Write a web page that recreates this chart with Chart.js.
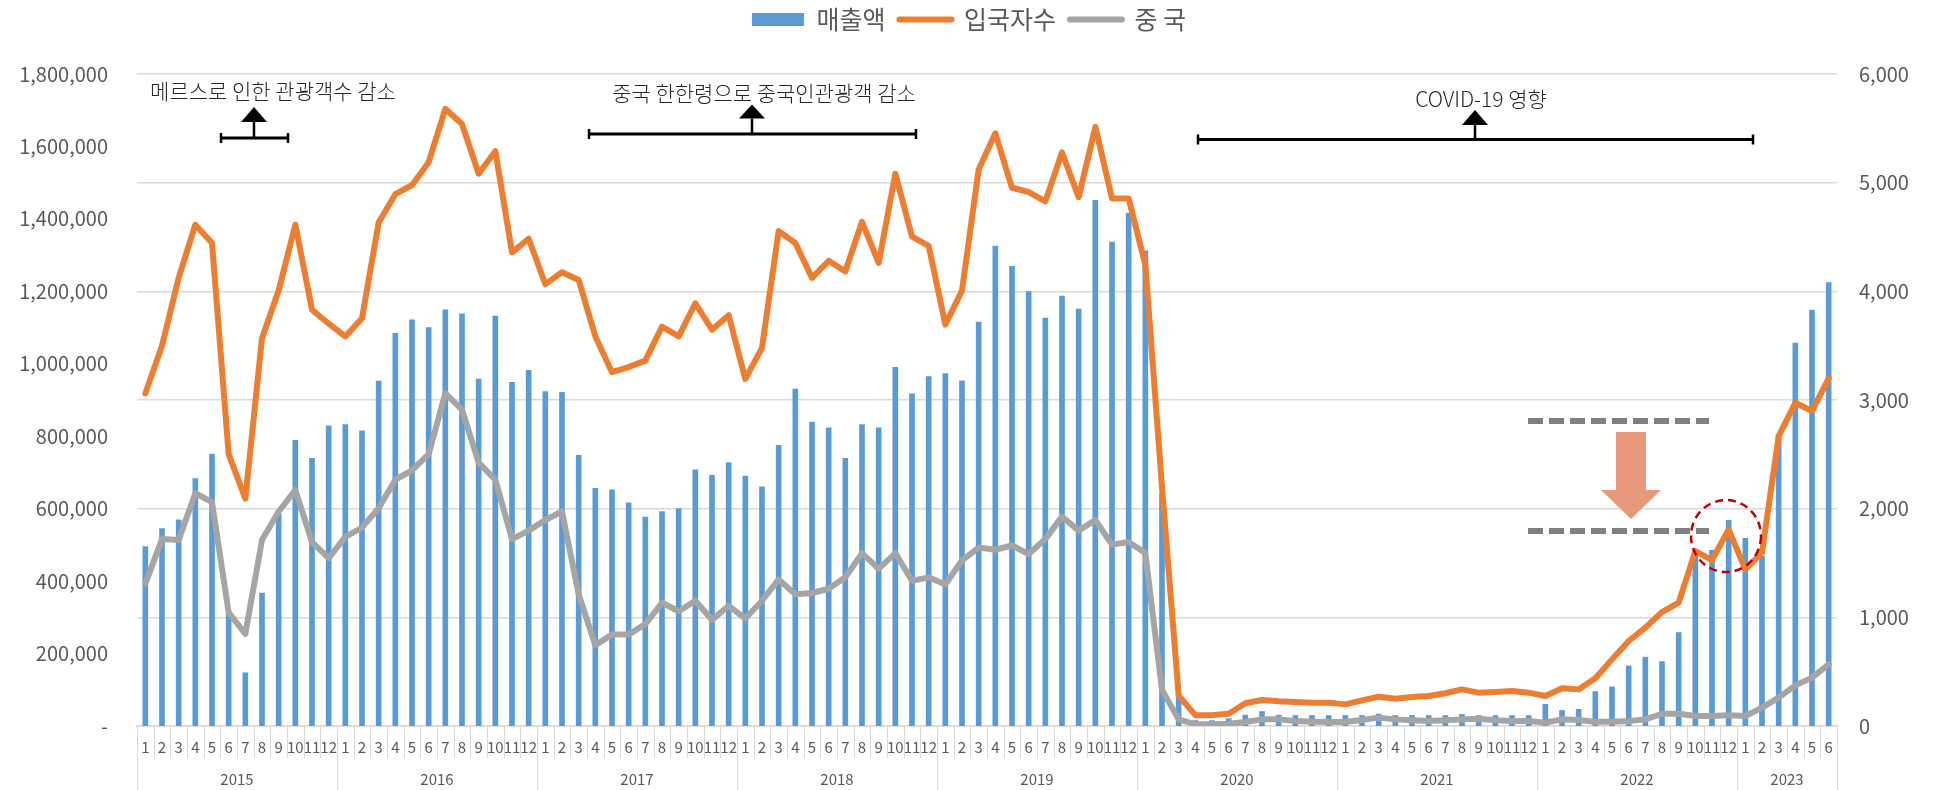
<!DOCTYPE html>
<html>
<head>
<meta charset="utf-8">
<script src="https://cdn.jsdelivr.net/npm/chart.js@4.4.1/dist/chart.umd.min.js"></script>
<style>
html,body{margin:0;padding:0;background:#ffffff;}
canvas{display:block;}
</style>
</head>
<body>
<canvas id="c" width="1938" height="790"></canvas>
<script>
// ---------- data ----------
const categories = [
 '2015-1','2015-2','2015-3','2015-4','2015-5','2015-6','2015-7','2015-8','2015-9','2015-10','2015-11','2015-12',
 '2016-1','2016-2','2016-3','2016-4','2016-5','2016-6','2016-7','2016-8','2016-9','2016-10','2016-11','2016-12',
 '2017-1','2017-2','2017-3','2017-4','2017-5','2017-6','2017-7','2017-8','2017-9','2017-10','2017-11','2017-12',
 '2018-1','2018-2','2018-3','2018-4','2018-5','2018-6','2018-7','2018-8','2018-9','2018-10','2018-11','2018-12',
 '2019-1','2019-2','2019-3','2019-4','2019-5','2019-6','2019-7','2019-8','2019-9','2019-10','2019-11','2019-12',
 '2020-1','2020-2','2020-3','2020-4','2020-5','2020-6','2020-7','2020-8','2020-9','2020-10','2020-11','2020-12',
 '2021-1','2021-2','2021-3','2021-4','2021-5','2021-6','2021-7','2021-8','2021-9','2021-10','2021-11','2021-12',
 '2022-1','2022-2','2022-3','2022-4','2022-5','2022-6','2022-7','2022-8','2022-9','2022-10','2022-11','2022-12',
 '2023-1','2023-2','2023-3','2023-4','2023-5','2023-6'
];
const yearLabels = ['2015','2016','2017','2018','2019','2020','2021','2022','2023'];

// 매출액 (left axis)
const sales = [
 495000, 545000, 569000, 683000, 751000, 310000, 147000, 367000, 585000, 789000, 739000, 829000,
 832000, 815000, 952000, 1084000, 1121000, 1100000, 1149000, 1138000, 958000, 1132000, 949000, 982000,
 923000, 921000, 747000, 656000, 652000, 616000, 577000, 592000, 600000, 707000, 692000, 727000,
 690000, 660000, 775000, 930000, 839000, 823000, 739000, 832000, 823000, 990000, 917000, 965000,
 973000, 953000, 1115000, 1325000, 1269000, 1199000, 1126000, 1187000, 1151000, 1451000, 1336000, 1416000,
 1312000, 640000, 85000, 15000, 15000, 20000, 30000, 40000, 30000, 29000, 29000, 29000,
 29000, 29000, 33000, 29000, 29000, 29000, 29000, 32000, 29000, 29000, 29000, 29000,
 60000, 43000, 46000, 95000, 108000, 166000, 190000, 178000, 258000, 483000, 485000, 568000,
 518000, 469000, 800000, 1057000, 1148000, 1224000
];
// 입국자수 (right axis)
const arrivals = [
 3061, 3499, 4124, 4613, 4445, 2502, 2091, 3569, 4007, 4613, 3831, 3702,
 3585, 3753, 4633, 4894, 4977, 5188, 5680, 5540, 5082, 5289, 4359, 4484,
 4066, 4175, 4105, 3585, 3256, 3303, 3362, 3675, 3585, 3890, 3647, 3780,
 3194, 3479, 4554, 4445, 4124, 4281, 4183, 4640, 4261, 5082, 4504, 4418,
 3694, 4007, 5121, 5454, 4953, 4914, 4828, 5278, 4867, 5512, 4855, 4855,
 4242, 2200, 280, 100, 100, 112, 209, 239, 228, 221, 215, 215,
 199, 236, 270, 251, 267, 276, 301, 337, 307, 313, 322, 307,
 276, 347, 337, 439, 613, 782, 905, 1049, 1135, 1610, 1527, 1810,
 1441, 1595, 2668, 2975, 2898, 3200
];
// 중 국 (right axis)
const china = [
 1310, 1720, 1712, 2142, 2060, 1044, 848, 1712, 1974, 2170, 1693, 1544,
 1740, 1826, 2005, 2267, 2353, 2502, 3061, 2912, 2424, 2267, 1720, 1798,
 1896, 1974, 1212, 743, 841, 841, 938, 1134, 1056, 1153, 977, 1106,
 989, 1153, 1349, 1212, 1224, 1263, 1368, 1591, 1446, 1591, 1337, 1368,
 1302, 1525, 1642, 1622, 1661, 1583, 1720, 1927, 1798, 1896, 1669, 1693,
 1591, 332, 61, 15, 15, 21, 37, 61, 61, 46, 40, 37,
 37, 55, 77, 61, 52, 46, 52, 61, 67, 52, 46, 46,
 31, 61, 55, 40, 40, 46, 61, 113, 113, 92, 92, 98,
 92, 169, 261, 374, 445, 567
];
const seriesNames = ['매출액', '입국자수', '중 국'];
const leftAxisRange = [0, 1800000, 200000];
const rightAxisRange = [0, 6000, 1000];

// ---------- style ----------
const FONT = '"Noto Sans CJK KR", "Noto Sans", sans-serif';
Chart.defaults.font.family = FONT;
Chart.defaults.color = '#595959';

// annotations in scale coordinates (x: category index, y: right-axis value)
const notes = [
  {text:'메르스로 인한 관광객수 감소', x:7.66, y:5848, from:4.54, to:8.56, by:5411, ax:6.52, tip:5696, base:5558},
  {text:'중국 한한령으로 중국인관광객 감소', x:37.12, y:5821, from:26.62, to:46.24, by:5448, ax:36.4, tip:5719, base:5590},
  {text:'COVID-19 영향', x:80.14, y:5770, from:63.16, to:96.46, by:5397, ax:79.78, tip:5669, base:5531}
];

const legendHeight = {
  id:'legendHeight',
  beforeInit(chart){
    const orig = chart.legend.fit;
    chart.legend.fit = function(){ orig.call(this); this.height = 81; };
  }
};

const xAxisDecor = {
  id:'xAxisDecor',
  afterDraw(chart){
    const xs = chart.scales.x, c = chart.ctx, top = chart.chartArea.bottom;
    const n = categories.length;
    const half = (xs.getPixelForValue(1) - xs.getPixelForValue(0)) / 2;
    c.save();
    c.strokeStyle = '#d9d9d9'; c.lineWidth = 1;
    for (let i = 0; i <= n; i++) {
      const px = Math.round(i < n ? xs.getPixelForValue(i) - half : xs.getPixelForValue(n-1) + half) + 0.5;
      const yearEdge = i === 0 || i === n || categories[i].split('-')[1] === '1';
      c.beginPath(); c.moveTo(px, top); c.lineTo(px, yearEdge ? 790 : 758); c.stroke();
    }
    c.fillStyle = '#595959'; c.font = '15px ' + FONT; c.textAlign = 'center'; c.textBaseline = 'middle';
    yearLabels.forEach(y => {
      const idx = categories.map((v,i)=>[v,i]).filter(p=>p[0].startsWith(y+'-')).map(p=>p[1]);
      const cx = (xs.getPixelForValue(idx[0]) + xs.getPixelForValue(idx[idx.length-1])) / 2;
      c.fillText(y, cx, 779);
    });
    c.restore();
  }
};

const annotations = {
  id:'annotations',
  afterDatasetsDraw(chart){
    const xs = chart.scales.x, ys = chart.scales.y1, c = chart.ctx;
    const X = v => xs.getPixelForValue(v), Y = v => ys.getPixelForValue(v);
    c.save();
    notes.forEach(n => {
      c.fillStyle = '#262626'; c.font = '300 21px ' + FONT; c.textAlign = 'center'; c.textBaseline = 'middle';
      c.fillText(n.text, X(n.x), Y(n.y));
      c.strokeStyle = '#000'; c.lineWidth = 3; c.lineCap = 'butt';
      const x1 = X(n.from), x2 = X(n.to), yb = Y(n.by);
      c.beginPath(); c.moveTo(x1, yb); c.lineTo(x2, yb); c.stroke();
      c.lineWidth = 2.5;
      c.beginPath(); c.moveTo(x1, yb-5); c.lineTo(x1, yb+5); c.moveTo(x2, yb-5); c.lineTo(x2, yb+5); c.stroke();
      const ax = X(n.ax), yt = Y(n.tip), ybs = Y(n.base);
      c.beginPath(); c.moveTo(ax, yb); c.lineTo(ax, ybs); c.stroke();
      c.fillStyle = '#000';
      c.beginPath(); c.moveTo(ax, yt); c.lineTo(ax-13, ybs); c.lineTo(ax+13, ybs); c.closePath(); c.fill();
    });
    // grey dashed level lines
    c.strokeStyle = '#7f7f7f'; c.lineWidth = 6; c.setLineDash([15,6]);
    [2807, 1794].forEach(v => {
      c.beginPath(); c.moveTo(X(82.96), Y(v)); c.lineTo(X(93.82), Y(v)); c.stroke();
    });
    c.setLineDash([]);
    // salmon down arrow
    const sx = X(89.14);
    c.fillStyle = '#e8997b';
    c.beginPath();
    c.moveTo(sx-15, Y(2705)); c.lineTo(sx+15, Y(2705)); c.lineTo(sx+15, Y(2172));
    c.lineTo(sx+30, Y(2172)); c.lineTo(sx, Y(1905)); c.lineTo(sx-30, Y(2172)); c.lineTo(sx-15, Y(2172));
    c.closePath(); c.fill();
    // red dashed ellipse
    c.strokeStyle = '#c00000'; c.lineWidth = 2.5; c.setLineDash([8,5]);
    c.beginPath(); c.ellipse(X(94.84), Y(1748), 35, 36, 0, 0, Math.PI*2); c.stroke();
    c.restore();
  }
};

new Chart(document.getElementById('c').getContext('2d'), {
  type:'bar',
  data:{
    labels: categories,
    datasets:[
      {type:'bar', label:seriesNames[0], data:sales, backgroundColor:'#5b9bd5', barThickness:5, yAxisID:'y', order:3},
      {type:'line', label:seriesNames[1], data:arrivals, borderColor:'#ed7d31', backgroundColor:'#ed7d31', borderWidth:6,
       pointRadius:0, tension:0, borderJoinStyle:'round', borderCapStyle:'round', yAxisID:'y1', order:2},
      {type:'line', label:seriesNames[2], data:china, borderColor:'#a5a5a5', backgroundColor:'#a5a5a5', borderWidth:6,
       pointRadius:0, tension:0, borderJoinStyle:'round', borderCapStyle:'round', yAxisID:'y1', order:1}
    ]
  },
  options:{
    responsive:false, animation:false, devicePixelRatio:1,
    layout:{padding:{top:-7, left:0, right:0, bottom:0}},
    plugins:{
      tooltip:{enabled:false},
      legend:{
        position:'top',
        labels:{
          usePointStyle:true, pointStyleWidth:52, boxHeight:13, padding:14,
          font:{size:25}, color:'#595959',
          generateLabels(chart){
            return chart.data.datasets.map((ds,i)=>({
              text: ds.label,
              fillStyle: ds.type==='bar' ? ds.backgroundColor : ds.borderColor,
              strokeStyle: ds.type==='bar' ? ds.backgroundColor : ds.borderColor,
              lineWidth: ds.type==='bar' ? 0 : 6,
              lineCap:'round',
              pointStyle: ds.type==='bar' ? 'rect' : 'line',
              fontColor:'#595959', hidden:false, datasetIndex:i
            }));
          }
        }
      }
    },
    scales:{
      x:{
        offset:true,
        grid:{display:false, drawTicks:false},
        border:{display:true, color:'#d9d9d9', width:1.5},
        ticks:{autoSkip:false, maxRotation:0, minRotation:0, padding:12, font:{size:15}, color:'#595959',
               callback(v,i){ return categories[i].split('-')[1]; }},
        afterFit(s){ s.height = 64; }
      },
      y:{
        position:'left', min:leftAxisRange[0], max:leftAxisRange[1],
        ticks:{stepSize:leftAxisRange[2], padding:29, font:{size:20}, color:'#595959',
               callback(v){ return v===0 ? '-' : v.toLocaleString('en-US'); }},
        grid:{display:false, drawTicks:false},
        border:{display:false},
        afterFit(s){ s.width = 137; }
      },
      y1:{
        position:'right', min:rightAxisRange[0], max:rightAxisRange[1],
        ticks:{stepSize:rightAxisRange[2], padding:22, font:{size:20}, color:'#595959',
               callback(v){ return v.toLocaleString('en-US'); }},
        grid:{color:'#d9d9d9', lineWidth:1.5, drawTicks:false},
        border:{display:false},
        afterFit(s){ s.width = 101; }
      }
    }
  },
  plugins:[legendHeight, xAxisDecor, annotations]
});
</script>
</body>
</html>
